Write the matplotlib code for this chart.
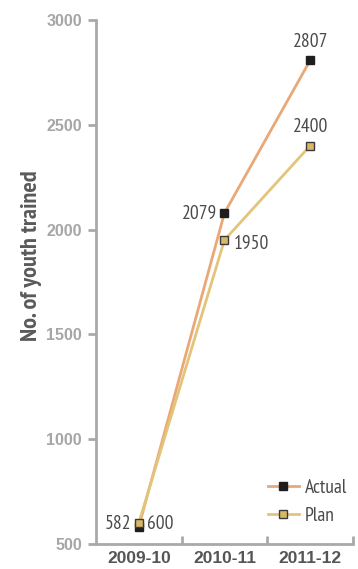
import matplotlib
matplotlib.use("Agg")
import matplotlib.pyplot as plt

years = ["2009-10", "2010-11", "2011-12"]
actual = [582, 2079, 2807]
plan = [600, 1950, 2400]
y_ticks = [500, 1000, 1500, 2000, 2500, 3000]

narrow = ["PT Sans Narrow", "DejaVu Sans"]
wide = ["Liberation Sans", "DejaVu Sans"]
plt.rcParams["font.family"] = narrow

actual_line = "#EBA877"
plan_line = "#E2C57A"
plan_face = "#D9B865"
label_col = "#4a4a4a"
axis_col = "#a9a9ab"

fig = plt.figure(figsize=(3.58, 5.69), dpi=100)
ax = fig.add_axes([0.268, 0.044, 0.718, 0.921])

x = list(range(len(years)))
ax.plot(x, actual, color=actual_line, lw=2.0, marker="s", ms=5.5,
        mfc="#1e1e1e", mec="#1e1e1e", label="Actual", zorder=3)
ax.plot(x, plan, color=plan_line, lw=2.0, marker="s", ms=5.5,
        mfc=plan_face, mec="#3a3a3a", mew=1.0, label="Plan", zorder=4)

ax.set_xlim(-0.5, 2.5)
ax.set_ylim(500, 3000)
ax.set_yticks(y_ticks)
ax.set_xticks(x)
ax.set_xticklabels(years)
ax.set_xticks([0.5, 1.5, 2.5], minor=True)

for s in ("top", "right"):
    ax.spines[s].set_visible(False)
for s in ("left", "bottom"):
    ax.spines[s].set_color(axis_col)
    ax.spines[s].set_linewidth(2.0)

ax.tick_params(axis="y", direction="out", length=6, width=2, color=axis_col,
               labelcolor="#a6a6a8", pad=4)
for t in ax.get_yticklabels():
    t.set_family(wide)
    t.set_fontweight("bold")
    t.set_fontsize(11.5)
ax.tick_params(axis="x", which="major", length=0, labelcolor="#555555", pad=5)
for t in ax.get_xticklabels():
    t.set_family(wide)
    t.set_fontweight("bold")
    t.set_fontsize(12.5)
ax.tick_params(axis="x", which="minor", direction="in", length=6, width=2,
               color=axis_col)

ax.set_ylabel("No. of youth trained", fontsize=17.5, fontweight="bold",
              color="#5a5a5a")
ax.yaxis.set_label_coords(-0.21, 0.55)

fs = 14
ax.annotate(f"{actual[2]}", (2, actual[2]), xytext=(0, 7), textcoords="offset points",
            ha="center", va="bottom", fontsize=fs, color=label_col)
ax.annotate(f"{plan[2]}", (2, plan[2]), xytext=(0, 7), textcoords="offset points",
            ha="center", va="bottom", fontsize=fs, color=label_col)
ax.annotate(f"{actual[1]}", (1, actual[1]), xytext=(-5, -1), textcoords="offset points",
            ha="right", va="center", fontsize=fs, color=label_col)
ax.annotate(f"{plan[1]}", (1, plan[1]), xytext=(7, -3), textcoords="offset points",
            ha="left", va="center", fontsize=fs, color=label_col)
ax.annotate(f"{actual[0]}", (0, actual[0]), xytext=(-5, 2), textcoords="offset points",
            ha="right", va="center", fontsize=fs, color=label_col)
ax.annotate(f"{plan[0]}", (0, plan[0]), xytext=(6, -1), textcoords="offset points",
            ha="left", va="center", fontsize=fs, color=label_col)

leg = ax.legend(loc="lower right", bbox_to_anchor=(1.03, 0.011), frameon=False,
                fontsize=14, handlelength=1.6, handletextpad=0.3,
                labelspacing=0.5, borderpad=0.2)
for t in leg.get_texts():
    t.set_color(label_col)

fig.savefig("out.png", dpi=100)
